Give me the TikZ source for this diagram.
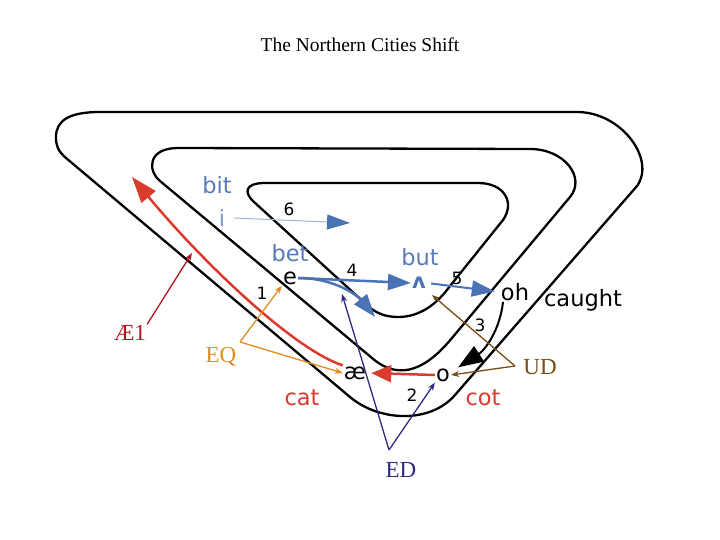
\documentclass[tikz,border=0pt]{standalone}
\usepackage{fontspec}
\setmainfont{Liberation Serif}
\newfontfamily\vowelsans{DejaVu Sans}
\usetikzlibrary{arrows.meta}
\definecolor{slate}{HTML}{5A7AB6}
\definecolor{pale}{HTML}{8098C8}
\definecolor{steel}{HTML}{4A72B4}
\definecolor{haze}{HTML}{9CB2D8}
\definecolor{brick}{HTML}{D93B2C}
\definecolor{crimson}{HTML}{B3141E}
\definecolor{amber}{HTML}{E38B1E}
\definecolor{umber}{HTML}{7A4C14}
\definecolor{navy}{HTML}{2D2B80}
\tikzset{>=Latex,track/.style={line width=2.3pt,line join=round},word/.style={font=\vowelsans\fontsize{22.5}{26}\selectfont,inner sep=1pt},num/.style={font=\vowelsans\fontsize{17}{20}\selectfont,inner sep=1pt},lbl/.style={font=\fontsize{23}{26}\selectfont,inner sep=1pt},bigarr/.style={line width=2.5pt,-{Triangle[length=23pt,width=16pt]}},thinarr/.style={line width=1.3pt,-{Stealth[length=8pt,width=6pt]}}}

\begin{document}
\begin{tikzpicture}[x=1pt,y=-1pt]
\useasboundingbox (0,0) rectangle (720,540);
\node[lbl,font=\fontsize{19.5}{23}\selectfont] (title) at (360,45) {The Northern Cities Shift};
\draw[track] (100,112) -- (577,112) .. controls (622,112) and (656,160) .. (637,186) -- (455,395) .. controls (430,424) and (379,421.5) .. (350,397) -- (66,158) .. controls (58,151) and (56,146) .. (56,137) .. controls (56,120) and (70,112) .. (100,112) -- cycle;
\draw[track] (178,148) -- (530,149) .. controls (565,149) and (586,178) .. (570,197) -- (452,338) .. controls (428,367) and (401,383) .. (372,358) -- (160,181) .. controls (147,170) and (148,148) .. (178,148) -- cycle;
\draw[track] (265,183) -- (478,183) .. controls (505,183) and (515,203) .. (503,220) -- (450,286) .. controls (437,304) and (420,317) .. (398,317) .. controls (385,317) and (376,313) .. (368,306) -- (254,202) .. controls (244,193) and (244,183) .. (265,183) -- cycle;
\node[word,slate] (bit) at (217,185) {bit};
\node[word,pale] (i) at (222,218) {i};
\node[num] (six) at (289,209) {6};
\node[word,slate] (bet) at (290,253) {bet};
\node[word] (e) at (290,278) {e};
\node[num] (one) at (262,293) {1};
\node[num] (four) at (352,270) {4};
\node[word,slate] (but) at (420,257) {but};
\node[word,steel,font=\vowelsans\bfseries\fontsize{21}{24}\selectfont] (ahat) at (419,283) {ʌ};
\node[num] (five) at (457,278) {5};
\node[word] (oh) at (515,292) {oh};
\node[word] (caught) at (583,300) {caught};
\node[num] (three) at (480,325) {3};
\node[word] (o) at (443,375) {o};
\node[word] (ae) at (355,373) {æ};
\node[num] (two) at (412,395) {2};
\node[word,brick] (cot) at (483,398) {cot};
\node[word,brick] (cat) at (302,398) {cat};
\node[lbl,crimson] (AE) at (130,333) {Æ1};
\node[lbl,amber] (EQ) at (221,357) {EQ};
\node[lbl,umber] (UD) at (540,367) {UD};
\node[lbl,navy] (ED) at (401,470) {ED};
\coordinate (sixtip) at (350,223);
\coordinate (dip) at (375,317);
\coordinate (redtip) at (132,177);
\coordinate (aetip) at (192,253);
\coordinate (eqv) at (240,342);
\coordinate (udv) at (515,366);
\coordinate (udtip) at (432,295);
\coordinate (edv) at (389,450);
\coordinate (edtip) at (342,294);
\draw[haze,line width=1pt,-{Triangle[length=23pt,width=15pt,color=steel]}] ([xshift=8pt]i.east) -- (sixtip);
\draw[bigarr,steel] (e.east) -- (ahat.west);
\draw[bigarr,steel] (e.east) .. controls (335,278) and (358,296) .. (dip);
\draw[bigarr,steel,line width=2pt,shorten <=4pt,shorten >=5pt] (ahat.east) -- (oh.west);
\draw[bigarr,line width=2pt,-{Triangle[length=25pt,width=18pt]}] ([xshift=-12pt]oh.south) .. controls (500,330) and (485,350) .. ([xshift=7pt]o.north east);
\draw[bigarr,brick,-{Triangle[length=20pt,width=17pt]},shorten >=4pt] (o.west) -- (ae.east);
\draw[bigarr,brick,-{Triangle[length=26pt,width=18pt]}] (ae.north west) .. controls (295,350) and (205,265) .. (redtip);
\draw[thinarr,crimson] (AE.north east) -- (aetip);
\draw[thinarr,amber] (eqv) -- (e.south west);
\draw[thinarr,amber] (eqv) -- (ae.west);
\draw[thinarr,umber] (udv) -- (udtip);
\draw[thinarr,umber] (udv) -- (o.east);
\draw[thinarr,navy] (edv) -- (edtip);
\draw[thinarr,navy] (edv) -- (o.south west);
\end{tikzpicture}
\end{document}
